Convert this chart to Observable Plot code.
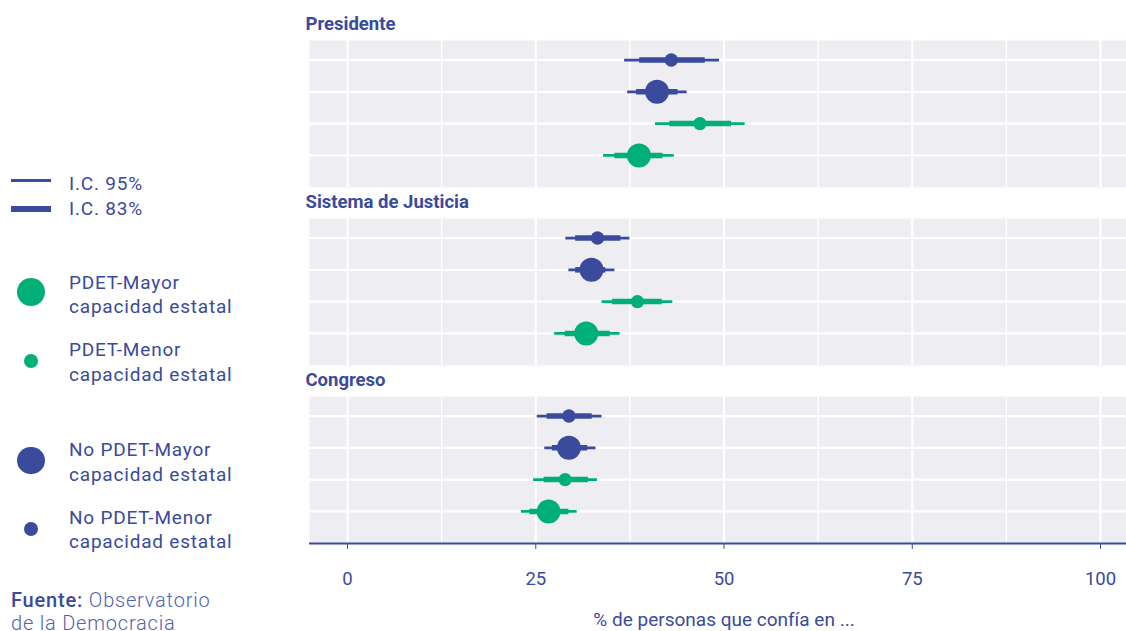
<!DOCTYPE html>
<html><head><meta charset="utf-8">
<script src="https://cdn.jsdelivr.net/npm/d3@7"></script>
<script src="https://cdn.jsdelivr.net/npm/@observablehq/plot@0.6"></script>
<style>
body{margin:0;background:#fff;font-family:Roboto,sans-serif;}
#wrap{position:relative;width:1126px;height:631px;overflow:hidden;}
#chart{position:absolute;left:0;top:0;}
#legend{position:absolute;left:0;top:0;width:300px;height:631px;pointer-events:none;}
.lt{position:absolute;left:69px;color:#3a4a9c;font-size:19px;letter-spacing:0.8px;line-height:1;white-space:nowrap;transform:translateY(-50%);}
.ln{position:absolute;left:11px;width:40px;background:#3a4a9c;}
.cc{position:absolute;border-radius:50%;}
.src{position:absolute;left:11px;color:#3a4a9c;font-size:20px;letter-spacing:0.8px;line-height:0.9;white-space:nowrap;transform:translateY(-50%);}
.src b{font-weight:500;}
.src span{font-weight:300;color:#5262b0;}
</style>
</head><body>
<div id="wrap"><div id="chart"></div><div id="legend"></div></div>
<script>
// ---- data ----
const panels = ["Presidente", "Sistema de Justicia", "Congreso"];
const groups = ["No PDET-Menor capacidad estatal", "No PDET-Mayor capacidad estatal", "PDET-Menor capacidad estatal", "PDET-Mayor capacidad estatal"];
const legendGroups = ["PDET-Mayor capacidad estatal", "PDET-Menor capacidad estatal", "No PDET-Mayor capacidad estatal", "No PDET-Menor capacidad estatal"];
const ciLabels = ["I.C. 95%", "I.C. 83%"];
// values listed panel by panel, in the order of `groups`
const est  = [43.0, 41.1, 46.8, 38.7,  33.2, 32.4, 38.5, 31.7,  29.4, 29.4, 28.9, 26.7];
const lo95 = [36.8, 37.2, 40.9, 34.0,  29.0, 29.4, 33.8, 27.5,  25.2, 26.2, 24.7, 23.1];
const hi95 = [49.4, 45.1, 52.8, 43.4,  37.5, 35.5, 43.2, 36.2,  33.8, 33.0, 33.2, 30.5];
const lo83 = [38.8, 38.4, 42.8, 35.5,  30.3, 30.3, 35.2, 28.9,  26.5, 27.2, 26.1, 24.2];
const hi83 = [47.5, 43.9, 51.0, 41.9,  36.3, 34.3, 41.8, 34.9,  32.5, 31.9, 32.0, 29.4];
const xTicks = [0, 25, 50, 75, 100];
const xMinor = [12.5, 37.5, 62.5, 87.5];
const xTitle = "% de personas que confía en ...";
const sourceBold = "Fuente:";
const sourceText = ["Observatorio", "de la Democracia"];

// ---- styles ----
const BLUE = "#3a4a9c", GREEN = "#00ae78";
const colorOf = g => g.startsWith("PDET") ? GREEN : BLUE;
const isMayor = g => g.includes("Mayor");

const data = est.map((v, i) => ({
  panel: panels[Math.floor(i / 4)],
  group: groups[i % 4],
  row: (i % 4) + 1,
  est: v, lo95: lo95[i], hi95: hi95[i], lo83: lo83[i], hi83: hi83[i]
}));

const yDom = [0.385, 5.01];

const chart = Plot.plot({
  width: 1126, height: 631,
  marginLeft: 309, marginRight: 0, marginTop: 39, marginBottom: 86,
  style: {fontFamily: "Roboto, sans-serif", fontSize: "18.5px", color: BLUE, background: "transparent"},
  x: {domain: [-5.05, 103.45], ticks: xTicks, tickSize: 6, tickPadding: 22, label: null, tickFormat: d => String(d)},
  y: {domain: yDom, reverse: true, axis: null},
  fy: {domain: panels, paddingInner: 0.173, paddingOuter: 0, axis: null, label: null},
  marks: [
    Plot.frame({fill: "#ededf2", stroke: null}),
    Plot.ruleX(xMinor, {stroke: "white", strokeWidth: 1.4}),
    Plot.ruleX(xTicks, {stroke: "white", strokeWidth: 2.2}),
    Plot.ruleY([1, 2, 3, 4], {stroke: "white", strokeWidth: 2.2}),
    Plot.ruleY(data, {fy: "panel", y: "row", x1: "lo95", x2: "hi95", stroke: d => colorOf(d.group), strokeWidth: 2.7}),
    Plot.ruleY(data, {fy: "panel", y: "row", x1: "lo83", x2: "hi83", stroke: d => colorOf(d.group), strokeWidth: 5.5}),
    Plot.dot(data, {filter: d => isMayor(d.group), fy: "panel", x: "est", y: "row", r: 12, fill: d => colorOf(d.group), stroke: null}),
    Plot.dot(data, {filter: d => !isMayor(d.group), fy: "panel", x: "est", y: "row", r: 6.7, fill: d => colorOf(d.group), stroke: null}),
    Plot.text(panels, {fy: d => d, text: d => d, frameAnchor: "top-left", dx: -4, dy: -16, textAnchor: "start", lineAnchor: "middle", fontWeight: "bold", fontSize: 18.5, fill: BLUE}),
    Plot.ruleY([panels[2]], {fy: d => d, y: () => yDom[1], stroke: BLUE, strokeWidth: 2}),
    Plot.text([xTitle], {fy: () => panels[2], x: () => 50, text: d => d, frameAnchor: "bottom", dy: 76, lineAnchor: "middle", fontSize: 19, fill: BLUE})
  ]
});
document.getElementById("chart").appendChild(chart);

// ---- legend (left side) ----
const lg = document.getElementById("legend");
function add(html) { lg.insertAdjacentHTML("beforeend", html); }
add(`<div class="ln" style="top:179.4px;height:2.7px"></div>`);
add(`<div class="lt" style="top:182.5px">${ciLabels[0]}</div>`);
add(`<div class="ln" style="top:206.2px;height:5.5px"></div>`);
add(`<div class="lt" style="top:207.5px">${ciLabels[1]}</div>`);
const lgPos = [{cy: 292.3, t: 281.7}, {cy: 361, t: 349.3}, {cy: 460.5, t: 449.3}, {cy: 529, t: 516.7}];
legendGroups.forEach((g, i) => {
  const r = isMayor(g) ? 13.9 : 7.2;
  const p = lgPos[i];
  add(`<div class="cc" style="left:${31.2 - r}px;top:${p.cy - r}px;width:${2*r}px;height:${2*r}px;background:${colorOf(g)}"></div>`);
  const parts = g.replace(" capacidad", "\ncapacidad").split("\n");
  add(`<div class="lt" style="top:${p.t}px">${parts[0]}</div>`);
  add(`<div class="lt" style="top:${p.t + 24.3}px">${parts[1]}</div>`);
});
add(`<div class="src" style="top:600px"><b>${sourceBold}</b> <span>${sourceText[0]}</span></div>`);
add(`<div class="src" style="top:622.5px"><span>${sourceText[1]}</span></div>`);
</script>
</body></html>
